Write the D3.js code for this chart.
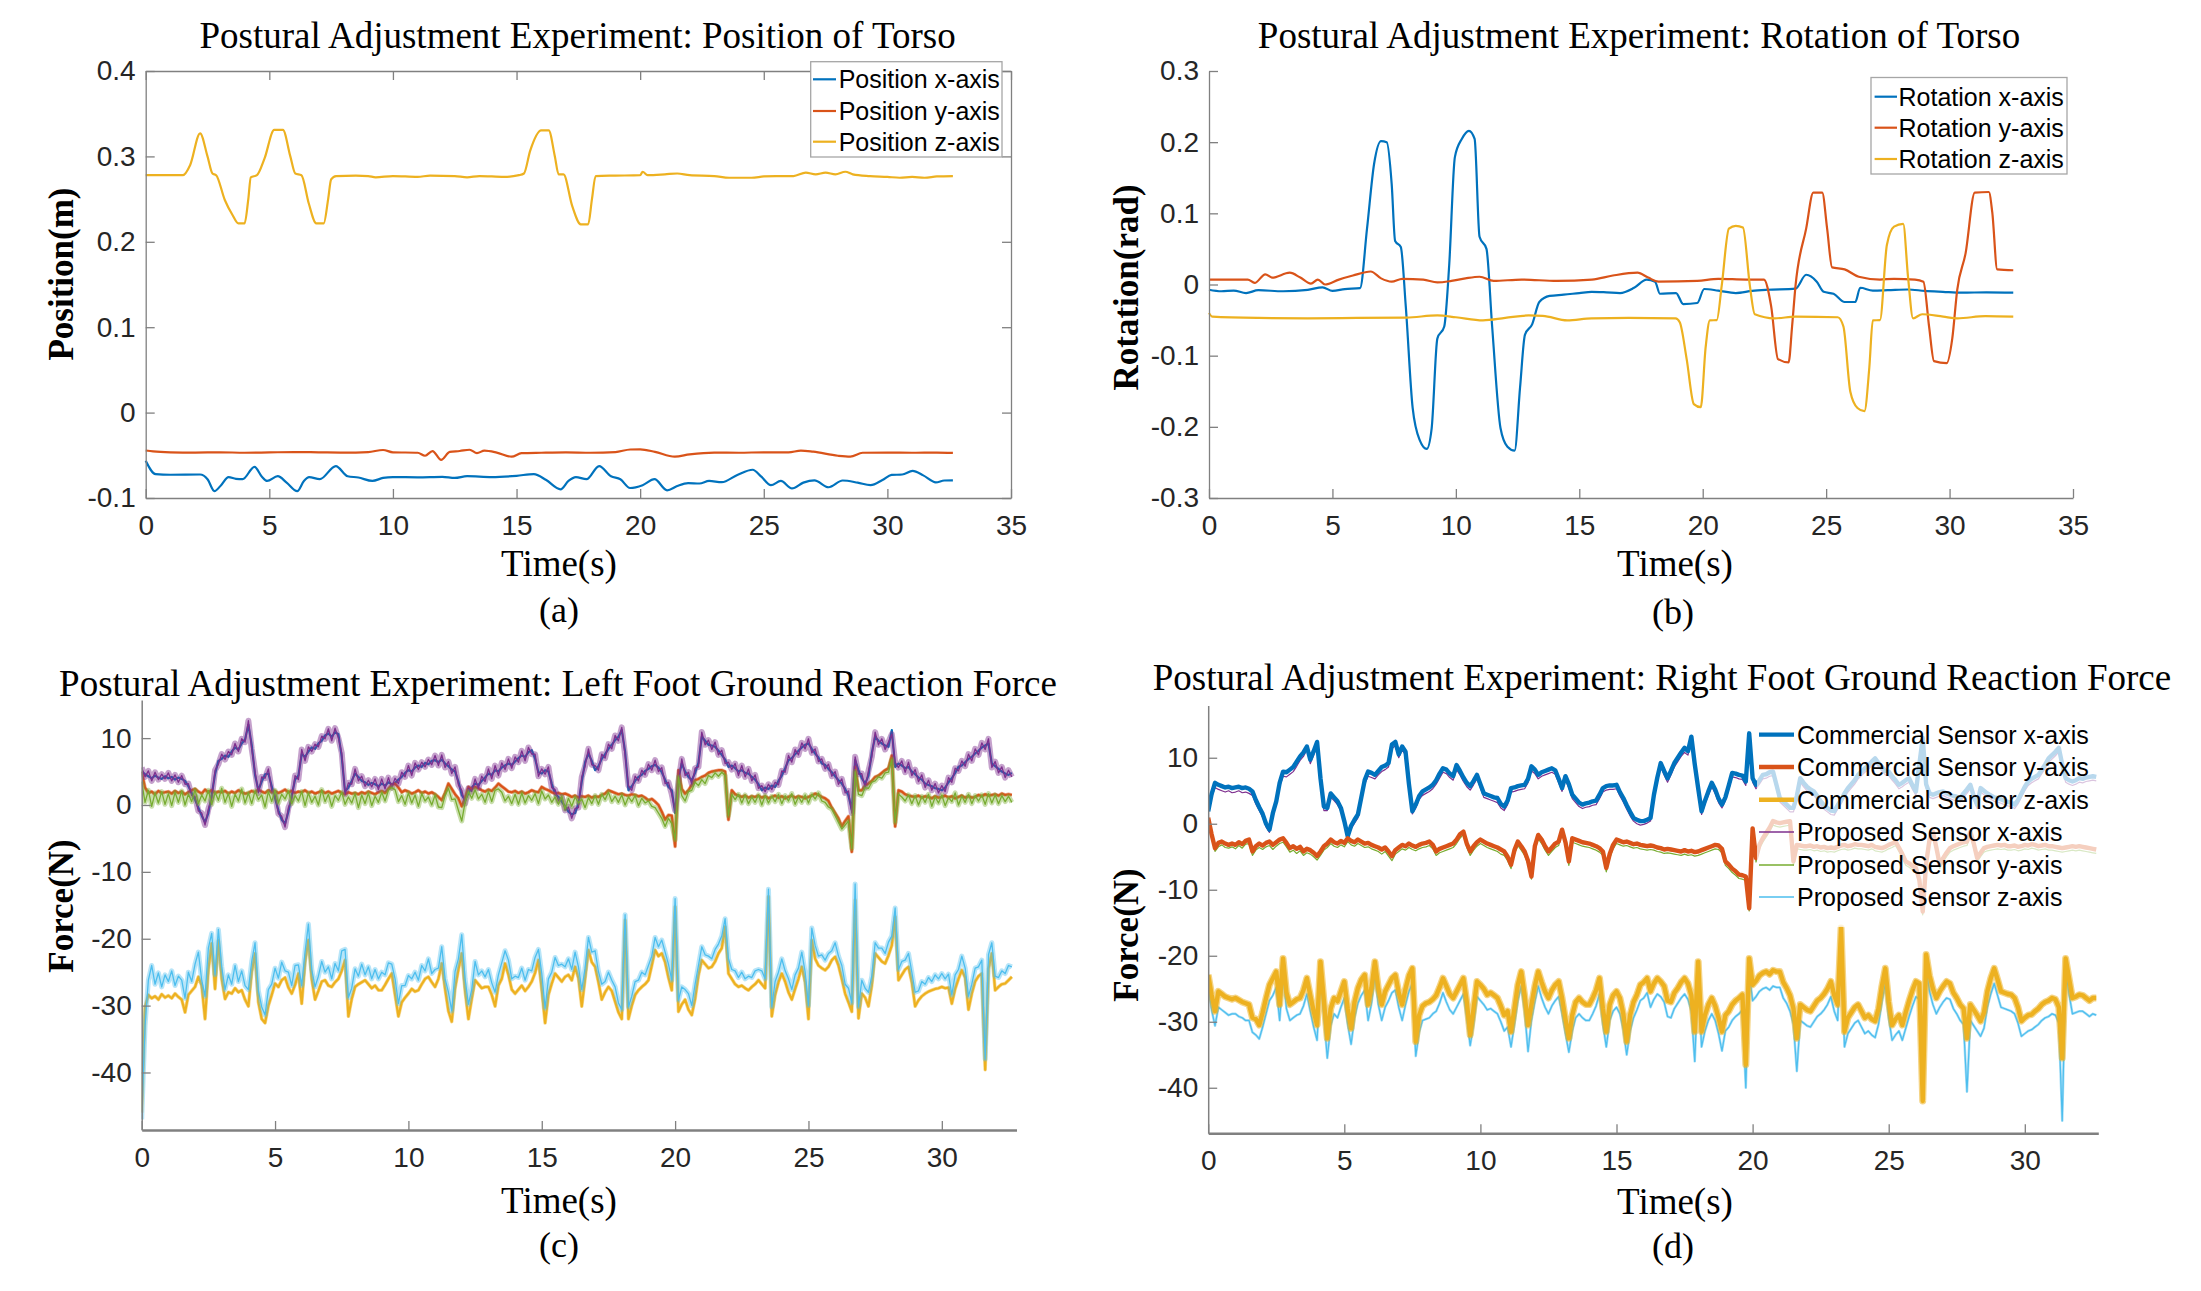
<!DOCTYPE html>
<html><head><meta charset="utf-8">
<script src="https://cdn.jsdelivr.net/npm/d3@7"></script>
<style>body{margin:0;background:#fff}</style>
</head><body>
<svg id="chart" width="2201" height="1291" xmlns="http://www.w3.org/2000/svg"></svg>
<script>
// ---------------- DATA ----------------
// Panel (a): torso position [time(s), value(m)]
const posX = [[0,-.0564],[0.4,-.0721],[1,-.0728],[2.2,-.0725],[2.5,-.078],[2.78,-.092],[3.05,-.085],[3.35,-.0755],[3.65,-.0775],[3.92,-.078],[4.4,-.0635],[4.7,-.075],[4.91,-.080],[5.34,-.0745],[5.7,-.082],[6.13,-.092],[6.4,-.080],[6.61,-.0755],[7.04,-.078],[7.69,-.0626],[8.17,-.0745],[8.6,-.076],[9.17,-.08],[9.6,-.0765],[10,-.0755],[11,-.0758],[12,-.0752],[12.5,-.0765],[13,-.0745],[14,-.0755],[15,-.074],[15.7,-.072],[16.2,-.079],[16.78,-.0898],[17.1,-.080],[17.4,-.0755],[17.83,-.078],[18.34,-.0626],[18.82,-.0745],[19.2,-.078],[19.59,-.0883],[20.1,-.085],[20.58,-.078],[21.09,-.091],[21.5,-.086],[21.94,-.0826],[22.4,-.083],[22.79,-.080],[23.3,-.0815],[23.93,-.073],[24.55,-.0669],[24.9,-.075],[25.29,-.085],[25.69,-.080],[26.14,-.0888],[26.6,-.082],[27.05,-.0793],[27.62,-.0874],[28.19,-.0795],[28.8,-.082],[29.32,-.085],[29.8,-.079],[30.17,-.073],[30.6,-.0725],[31.02,-.0683],[31.45,-.0735],[31.96,-.0817],[32.3,-.0795],[32.65,-.0793]];
const posY = [[0,-.0444],[0.3,-.0455],[1,-.0465],[2,-.0468],[3,-.0465],[4,-.047],[5,-.0466],[6,-.0462],[7,-.0465],[8,-.0468],[9,-.0462],[9.6,-.0438],[10,-.0465],[11,-.047],[11.3,-.0505],[11.6,-.045],[11.95,-.0554],[12.3,-.046],[12.7,-.045],[13.1,-.0435],[13.4,-.0475],[13.7,-.0445],[14.2,-.0468],[14.8,-.0516],[15.2,-.0475],[16,-.047],[17,-.0466],[18,-.047],[19,-.0462],[19.6,-.0432],[20,-.043],[20.6,-.046],[21.4,-.0516],[22,-.049],[23,-.0468],[24,-.047],[25,-.0465],[26,-.0465],[26.5,-.0445],[27,-.0458],[28,-.0505],[28.5,-.0515],[29,-.047],[30,-.0468],[31,-.047],[32,-.0468],[32.65,-.0472]];
const posZ = [[0,.278],[1.5,.278],[1.8,.29],[2.2,.327],[2.5,.30],[2.7,.28],[2.85,.278],[3.2,.249],[3.5,.232],[3.75,.2215],[4.0,.2215],[4.15,.25],[4.25,.2755],[4.5,.278],[4.8,.297],[5.2,.331],[5.55,.331],[5.85,.30],[6.05,.280],[6.3,.278],[6.6,.2445],[6.9,.2215],[7.2,.2215],[7.38,.25],[7.5,.273],[7.7,.277],[8.5,.2775],[9.0,.277],[9.3,.2755],[10,.277],[11,.276],[11.5,.2775],[12.5,.277],[13,.2755],[13.5,.277],[14.5,.276],[15.1,.278],[15.3,.28],[15.55,.3065],[16.0,.3305],[16.3,.3305],[16.55,.30],[16.7,.279],[16.9,.279],[17.25,.242],[17.6,.2205],[17.9,.2205],[18.05,.25],[18.2,.277],[19,.2775],[20,.278],[20.1,.282],[20.3,.278],[21,.279],[21.5,.28],[22,.278],[23,.277],[23.6,.275],[24.5,.275],[25,.2765],[25.5,.277],[26.2,.277],[26.7,.281],[27.1,.279],[27.5,.281],[27.9,.279],[28.3,.282],[28.6,.279],[29.3,.277],[30,.276],[30.5,.275],[31,.276],[31.5,.275],[32,.2765],[32.65,.277]];

// Panel (b): torso rotation [time(s), value(rad)]
const rotX = [[0,-.0074],[0.5,-.0095],[1,-.0085],[1.5,-.012],[2,-.008],[3,-.0095],[4,-.0075],[4.6,-.004],[5,-.009],[5.5,-.0065],[6.12,-.005],[6.4,.078],[6.69,.17],[6.97,.2015],[7.2,.20],[7.4,.1415],[7.54,.061],[7.77,.0527],[7.97,-.03],[8.25,-.1735],[8.54,-.219],[8.82,-.231],[9.02,-.202],[9.25,-.076],[9.53,-.059],[9.73,.027],[9.96,.179],[10.24,.2045],[10.53,.216],[10.76,.2045],[10.96,.067],[11.24,.05],[11.47,-.059],[11.81,-.202],[12.09,-.228],[12.38,-.2335],[12.6,-.145],[12.8,-.0705],[13.09,-.056],[13.38,-.0246],[13.8,-.016],[14.37,-.0143],[15,-.012],[15.5,-.0103],[16.1,-.011],[16.65,-.012],[17.22,-.0046],[17.73,.0069],[18.07,.004],[18.27,-.013],[18.92,-.012],[19.21,-.0275],[19.78,-.026],[20.06,-.0063],[20.63,-.0086],[21.34,-.012],[22,-.009],[22.62,-.0074],[23.76,-.0057],[24.19,.0137],[24.62,.004],[24.9,-.0103],[25.3,-.013],[25.75,-.0246],[26.18,-.0246],[26.38,-.0046],[26.89,-.0086],[27.5,-.008],[28.3,-.007],[29,-.009],[29.73,-.0103],[30.5,-.0115],[31.5,-.011],[32.58,-.0115]];
const rotY = [[0,.0069],[1.57,.0069],[1.85,.0023],[2.28,.0143],[2.56,.0097],[3.27,.0166],[3.7,.0097],[4.13,.0011],[4.41,.0069],[4.7,0],[5.26,.0069],[5.83,.0126],[6.55,.0183],[6.97,.0086],[7.4,.004],[7.83,.008],[8.68,.0069],[9.25,.0029],[9.82,.005],[10.39,.0086],[10.96,.0109],[11.53,.005],[12.66,.0069],[14.09,.005],[15.51,.0069],[16.36,.0126],[17.36,.0166],[17.79,.0097],[18.21,.004],[19.78,.005],[20.63,.008],[21.77,.0069],[22.48,.0069],[22.77,-.03],[23.05,-.1048],[23.48,-.1094],[23.62,-.059],[23.76,-.0017],[24.19,.0785],[24.48,.129],[24.84,.129],[25.04,.0785],[25.24,.024],[25.75,.0212],[26.32,.0109],[27.18,.0069],[27.75,.008],[28.6,.0069],[28.94,.004],[29.17,-.059],[29.37,-.1077],[29.88,-.1105],[30.11,-.0756],[30.31,-.0074],[30.65,.0441],[31.02,.129],[31.59,.13],[31.73,.1014],[31.93,.0212],[32.58,.02]];
const rotZ = [[0,-.040],[0.14,-.0452],[2,-.047],[4,-.0475],[6,-.047],[8,-.0465],[9.25,-.0435],[10,-.046],[11.1,-.0504],[12,-.047],[12.95,-.0435],[13.52,-.044],[14.51,-.0504],[15.5,-.0475],[17,-.047],[18.9,-.0475],[19.07,-.053],[19.35,-.1048],[19.64,-.168],[19.92,-.1724],[20.12,-.0876],[20.29,-.0504],[20.57,-.05],[20.77,-.0017],[21.06,.0785],[21.34,.0825],[21.63,.08],[21.91,-.0017],[22.11,-.0418],[22.91,-.0475],[23.76,-.0452],[25.47,-.046],[25.7,-.059],[25.98,-.1506],[26.27,-.1735],[26.55,-.178],[26.75,-.1163],[26.89,-.0504],[27.18,-.05],[27.46,.0556],[27.75,.0813],[28.12,.0853],[28.32,.0097],[28.52,-.0475],[28.89,-.0418],[29.74,-.0452],[30.31,-.0475],[31.45,-.0445],[32.58,-.0452]];

// Panels (c),(d): ground reaction forces sampled every forceDt seconds (N)
const forceDt = 0.125;
const leftComX = [
5.0,4.6,4.3,4.0,4.4,4.1,3.9,4.3, 4.0,4.2,3.8,4.1,3.9,3.6,2.8,1.8, 0.8,-0.4,-1.6,-2.6,-1.2,1.5,4.6,6.6, 6.9,7.4,7.2,8.0,8.6,8.3,9.2,9.8,
12.0,9.0,4.5,2.2,3.5,4.6,4.7,2.8, 1.0,-0.8,-2.2,-2.8,-1.0,1.4,3.8,4.4, 7.6,7.2,8.0,8.6,8.4,9.2,9.6,10.4, 10.7,10.2,10.9,10.6,7.2,2.0,2.6,3.6,
4.7,4.2,3.6,3.4,3.0,3.3,3.1,2.8, 3.2,2.9,3.4,3.1,3.3,3.8,4.2,4.8, 5.2,5.0,5.6,5.9,5.7,6.3,6.1,6.6, 6.7,6.4,6.8,6.2,5.8,5.3,5.0,3.5,
1.5,0.7,1.8,2.6,3.2,3.0,3.6,4.1, 4.7,4.5,5.2,5.0,5.6,5.9,6.2,6.0, 6.5,7.0,7.4,7.2,7.9,8.2,6.9,4.9, 4.7,5.2,5.0,3.2,1.6,1.2,0.5,-0.2,
-1.0,-1.4,-1.2,0.2,3.5,6.4,7.7,6.6, 5.2,5.8,6.9,7.6,8.4,9.0,9.7,10.2, 11.2,8.0,2.2,2.8,3.6,4.2,4.5,5.1, 5.4,5.8,6.0,5.6,4.9,3.8,2.7,2.2,
-1.2,4.0,6.2,5.0,4.2,3.7,4.8,6.3, 10.2,9.6,9.0,8.9,8.7,8.1,7.5,6.8, 5.7,5.9,5.5,5.0,5.2,4.8,4.7,4.2, 3.8,3.1,2.2,2.6,2.4,2.9,2.7,3.6,
4.4,5.5,6.7,7.0,7.6,8.1,8.6,9.0, 9.2,8.4,7.7,7.1,6.2,6.0,5.4,4.9, 4.3,3.7,3.2,2.4,1.4,-0.7,6.7,5.2, 4.0,3.2,4.4,7.8,10.2,9.6,9.2,8.9,
8.7,11.2,5.7,6.2,5.9,5.5,5.7,5.0, 4.6,4.1,3.8,3.2,3.0,2.8,2.5,2.4, 2.2,2.6,3.4,4.0,4.8,5.7,5.9,6.4, 6.9,7.2,7.7,8.1,8.6,8.9,9.2,6.2,
5.8,5.4,5.0,4.7,4.5,4.8];
const leftComY = [
5.0,2.6,1.8,2.0,1.6,2.1,1.8,1.9, 2.0,1.7,2.1,1.8,2.0,1.6,1.9,2.2, 2.4,2.0,1.7,2.3,1.9,2.2,1.8,2.0, 1.9,2.1,1.7,2.0,1.8,2.2,1.9,1.7,
1.8,2.1,1.9,2.3,2.0,1.8,2.2,1.9, 2.1,1.8,2.0,2.3,1.9,2.1,1.8,2.0, 1.9,2.2,1.8,2.0,1.7,1.9,2.1,1.8, 2.0,1.7,1.9,2.1,1.8,1.6,1.9,1.7,
1.8,1.6,1.9,1.7,2.0,1.8,1.6,1.9, 2.1,1.8,2.4,3.0,3.2,2.6,1.9,2.2, 2.0,1.7,1.9,2.2,1.8,2.0,1.7,1.9, 1.6,1.2,0.7,1.8,3.2,2.4,1.6,1.0,
-0.2,1.0,2.7,2.4,2.7,2.5,2.2,2.0, 2.3,2.1,2.6,3.2,2.8,2.4,2.0,1.9, 2.1,1.8,2.0,1.7,1.9,2.2,2.0,1.9, 2.7,2.4,2.2,1.9,1.7,1.8,1.6,1.7,
1.5,1.2,1.4,1.1,1.3,1.2,1.4,1.1, 1.3,1.2,1.5,1.7,2.2,2.0,1.8,1.6, 1.7,1.5,1.4,1.6,1.5,1.3,1.4,1.1, 0.7,0.9,0.5,0.0,-1.0,-2.2,-1.5,-1.6,
-6.2,5.2,2.4,1.7,2.2,3.0,3.7,3.9, 4.2,4.4,4.8,5.0,5.1,5.2,5.2,5.0, -2.2,2.2,1.6,1.4,1.2,1.4,1.1,1.3, 1.2,1.4,1.1,1.3,1.0,1.2,1.4,1.1,
1.3,1.0,1.2,1.4,1.1,1.3,1.2,1.0, 1.2,1.4,1.7,1.5,1.2,1.0,0.6,-0.4, -1.2,-2.0,-3.2,-2.4,-1.7,-7.0,5.7,2.2, 2.2,2.9,3.2,3.6,4.2,4.4,4.8,5.2,
5.5,7.4,-3.2,2.2,2.0,1.6,1.4,1.3, 1.2,1.4,1.1,1.3,1.2,1.0,1.3,1.1, 1.2,1.4,1.1,1.3,1.0,1.2,1.4,1.1, 1.3,1.1,1.2,1.5,1.3,1.6,1.4,1.5,
1.6,1.4,1.7,1.5,1.6,1.5];
const leftComZ = [
-46.0,-30.2,-28.4,-28.9,-28.6,-29.1,-28.3,-28.8, -28.5,-28.9,-28.2,-28.7,-29.1,-31.0,-28.4,-27.8, -27.2,-25.7,-27.0,-32.0,-24.6,-20.7,-27.5,-20.2, -26.0,-29.0,-28.0,-28.2,-27.4,-28.0,-27.7,-29.1,
-30.1,-25.0,-22.2,-29.5,-32.0,-32.6,-30.0,-28.4, -26.7,-27.2,-26.2,-25.8,-27.3,-28.2,-26.9,-25.2, -29.7,-23.5,-20.2,-26.0,-29.1,-27.8,-26.4,-26.2, -27.0,-27.2,-26.5,-26.0,-24.8,-23.2,-31.6,-29.0,
-27.2,-26.8,-26.5,-26.2,-26.8,-27.4,-27.0,-27.7, -27.7,-26.9,-26.0,-25.2,-28.4,-31.6,-29.5,-28.8, -28.2,-27.5,-27.9,-27.7,-26.8,-26.0,-25.7,-26.5, -27.2,-26.0,-23.7,-27.5,-30.8,-32.4,-27.4,-24.6,
-22.2,-27.8,-32.0,-29.0,-26.2,-26.8,-27.4,-27.2, -27.2,-28.4,-30.1,-27.0,-26.0,-23.7,-25.4,-27.6, -28.2,-27.6,-27.0,-27.8,-27.2,-26.4,-25.1,-23.2, -27.6,-32.6,-28.4,-26.7,-25.2,-25.8,-26.4,-25.7,
-25.4,-26.2,-24.2,-25.9,-30.1,-26.0,-21.7,-23.5, -24.2,-26.5,-29.1,-28.0,-27.2,-27.8,-29.4,-31.0, -32.0,-17.2,-32.0,-30.0,-28.4,-27.7,-27.2,-26.8, -26.2,-24.0,-21.7,-22.6,-22.2,-23.5,-25.8,-27.7,
-15.2,-30.9,-29.8,-29.1,-30.6,-31.4,-29.0,-25.5, -23.2,-23.8,-24.4,-24.2,-23.4,-22.2,-21.4,-18.2, -25.2,-26.0,-26.8,-27.2,-27.0,-27.4,-27.7,-27.2, -26.8,-26.2,-26.8,-27.4,-13.7,-31.6,-28.4,-26.5,
-25.2,-26.4,-28.0,-29.1,-27.5,-26.0,-24.2,-26.5, -32.0,-20.2,-23.0,-24.0,-24.4,-24.7,-24.2,-23.2, -22.7,-24.0,-26.0,-28.2,-29.5,-30.9,-14.2,-31.9, -28.2,-28.8,-30.1,-27.0,-22.2,-22.8,-23.4,-23.7,
-22.5,-21.0,-16.7,-26.2,-25.4,-24.6,-24.2,-26.5, -30.1,-29.2,-28.6,-28.2,-27.9,-27.7,-27.5,-27.4, -27.2,-27.4,-27.3,-29.7,-27.5,-26.0,-24.7,-25.8, -30.6,-28.2,-26.4,-25.6,-25.2,-39.6,-24.5,-22.2,
-27.7,-27.2,-26.8,-26.7,-26.2,-25.7];
const leftPropX = [
5.6,4.2,5.1,3.6,4.9,3.8,4.6,3.9, 4.8,3.6,4.5,3.4,4.4,3.1,3.2,1.4, 1.3,-0.9,-1.2,-3.0,-0.6,1.0,5.2,6.1, 7.6,6.8,8.0,7.5,9.2,8.0,9.9,9.4,
12.6,8.4,5.0,1.8,4.2,4.0,5.4,2.2, 1.6,-1.3,-1.7,-3.3,-0.4,0.8,4.4,3.8, 8.3,6.6,8.7,8.0,9.1,8.7,10.3,9.9, 11.4,9.6,11.5,10.0,7.8,1.6,3.3,3.1,
5.4,3.6,4.3,2.8,3.7,2.7,3.9,2.3, 3.9,2.4,4.1,2.6,4.0,3.2,4.9,4.2, 5.9,4.4,6.3,5.3,6.4,5.7,6.8,6.0, 7.4,5.9,7.5,5.6,6.5,4.7,5.7,3.0,
2.2,0.2,2.5,2.0,3.9,2.5,4.3,3.5, 5.4,3.9,5.9,4.4,6.3,5.3,6.9,5.5, 7.2,6.4,8.1,6.6,8.6,7.6,7.6,4.3, 5.4,4.6,5.7,2.6,2.3,0.6,1.2,-0.8,
-0.3,-2.0,-0.5,-0.4,4.2,5.8,8.4,6.0, 5.9,5.2,7.6,7.0,9.1,8.4,10.4,9.6, 11.6,7.4,2.9,2.2,4.3,3.6,5.2,4.5, 6.1,5.2,6.7,5.0,5.6,3.2,3.4,1.6,
-0.8,3.4,6.9,4.4,4.9,3.1,5.5,5.7, 10.9,9.0,9.7,8.3,9.4,7.5,8.2,6.2, 6.4,5.3,6.2,4.4,5.9,4.2,5.4,3.6, 4.5,2.5,2.9,2.0,3.1,2.3,3.4,3.0,
5.1,4.9,7.4,6.4,8.3,7.5,9.3,8.4, 9.9,7.8,8.4,6.5,6.9,5.4,6.1,4.3, 5.0,3.1,3.9,1.8,2.1,-1.2,7.2,4.6, 4.7,2.6,5.1,7.2,10.9,9.0,9.9,8.3,
9.4,10.6,6.4,5.6,6.6,4.9,6.4,4.4, 5.3,3.5,4.5,2.6,3.7,2.2,3.2,1.8, 2.9,2.0,4.1,3.4,5.5,5.1,6.6,5.8, 7.6,6.6,8.4,7.5,9.3,8.3,9.9,5.6,
6.5,4.8,5.7,4.1,5.2,4.2];
const leftPropY = [
3.5,0.4,2.2,-0.2,1.8,0.3,2.0,0.1, 1.7,-0.1,1.9,0.4,2.1,0.0,1.6,0.5, 2.3,0.2,1.5,0.6,2.2,0.1,1.9,0.7, 2.5,0.4,1.7,-0.2,1.6,0.6,2.4,0.3,
1.8,0.2,2.1,0.8,1.5,-0.3,2.0,0.5, 2.2,0.3,1.6,0.9,2.1,0.2,1.4,0.6, 2.0,-0.1,1.8,0.4,1.3,0.0,2.3,0.5, 1.6,-0.2,1.4,0.7,1.9,0.1,1.2,0.3,
1.7,-0.4,1.5,0.2,1.8,-0.1,1.3,0.4, 1.9,0.6,2.2,2.6,2.3,0.5,1.4,0.1, 1.8,0.3,1.5,-0.2,1.7,0.6,1.2,0.0, 1.5,-0.3,-0.4,1.4,2.5,0.8,0.9,-0.8,
-2.4,0.4,2.0,1.0,2.3,0.9,1.6,0.4, 2.0,0.5,2.2,2.4,1.9,0.6,1.3,0.2, 1.6,0.1,1.8,0.3,1.4,0.7,1.7,0.2, 2.1,0.9,1.5,0.4,1.2,0.1,1.3,-0.6,
1.0,-0.2,1.2,0.3,0.9,-0.4,1.1,0.2, 1.4,0.1,1.6,0.8,1.9,0.5,1.3,0.4, 1.5,0.0,1.2,0.5,1.4,-0.1,1.0,0.3, 0.6,-0.2,-0.4,-1.2,-2.0,-3.2,-2.0,-2.8,
-5.2,4.2,1.4,0.6,2.0,2.2,3.4,2.9, 3.8,3.2,4.4,4.1,4.8,4.3,4.9,4.4, -1.6,1.6,0.8,1.6,0.3,1.5,0.2,1.2, 0.4,1.5,0.0,1.4,0.3,1.3,0.5,1.6,
0.2,1.4,0.6,1.7,0.1,1.2,0.4,1.5, 0.3,1.6,0.9,1.8,0.6,0.4,-0.3,-0.6, -1.6,-2.6,-3.6,-3.0,-2.4,-6.5,5.0,1.6, 1.4,2.6,2.5,3.4,3.6,4.2,4.0,4.8,
4.9,6.8,-2.6,1.6,1.2,0.6,1.5,0.2, 1.4,0.0,1.3,0.4,1.6,-0.2,1.2,0.3, 1.5,-0.1,1.1,0.5,1.8,0.0,1.3,0.4, 1.6,0.2,1.4,0.6,1.5,0.1,1.7,0.3,
1.5,0.2,1.4,0.5,1.3,0.4];
const leftPropZ = [
-47.0,-33.0,-26.2,-24.0,-26.8,-25.1,-27.2,-25.4, -26.4,-24.8,-27.0,-25.6,-26.2,-28.9,-25.0,-26.4, -23.8,-22.0,-26.2,-28.6,-21.4,-19.2,-25.4,-18.6, -24.2,-27.6,-25.4,-26.8,-24.0,-26.4,-24.8,-27.0,
-27.6,-23.4,-20.6,-27.8,-30.2,-31.4,-27.6,-26.8, -24.4,-25.9,-23.5,-24.8,-25.0,-27.0,-24.0,-23.9, -27.0,-22.0,-17.8,-24.6,-27.2,-25.6,-23.4,-25.0, -24.2,-26.0,-23.7,-24.8,-21.8,-21.6,-28.8,-27.4,
-24.5,-25.6,-23.8,-25.4,-24.2,-26.0,-24.6,-26.0, -25.0,-25.4,-23.6,-23.8,-26.0,-29.7,-27.0,-27.0, -25.5,-26.0,-25.0,-26.2,-24.0,-24.8,-23.0,-25.2, -24.6,-24.4,-21.2,-26.0,-28.0,-30.8,-24.9,-23.0,
-19.4,-26.0,-29.8,-27.6,-23.4,-25.4,-24.8,-25.7, -24.6,-26.6,-28.0,-25.4,-23.6,-21.8,-23.2,-26.0, -25.6,-25.8,-24.4,-26.2,-24.6,-24.8,-22.8,-21.6, -25.2,-30.4,-26.0,-25.0,-22.8,-24.0,-23.8,-24.2,
-23.0,-24.6,-22.0,-24.2,-27.6,-24.4,-19.8,-22.0, -21.8,-24.9,-26.8,-26.4,-25.0,-26.2,-27.2,-29.6, -30.6,-16.4,-30.2,-28.6,-26.4,-26.2,-25.0,-25.4, -24.0,-22.6,-19.8,-21.2,-20.2,-22.0,-23.8,-26.2,
-14.0,-29.2,-27.2,-27.6,-28.2,-30.0,-26.8,-24.0, -21.2,-22.4,-22.6,-23.0,-21.6,-20.8,-19.6,-17.0, -23.0,-24.6,-24.8,-25.8,-25.0,-26.0,-25.6,-25.8, -24.8,-24.6,-24.8,-26.0,-12.6,-30.2,-26.4,-25.0,
-23.0,-24.8,-26.0,-27.6,-25.4,-24.4,-22.0,-25.0, -30.0,-18.4,-21.0,-22.6,-22.4,-23.2,-22.2,-21.8, -20.6,-22.6,-24.0,-26.8,-27.4,-29.6,-11.8,-30.2, -26.2,-27.4,-28.0,-25.6,-20.6,-21.4,-21.4,-22.2,
-20.5,-19.6,-15.4,-24.6,-23.4,-23.2,-22.2,-25.0, -28.0,-27.8,-26.4,-26.8,-25.8,-26.4,-25.4,-26.0, -25.2,-26.0,-25.3,-28.4,-25.4,-24.6,-22.6,-24.4, -28.6,-26.8,-24.4,-24.2,-23.2,-38.0,-22.4,-20.6,
-25.6,-25.8,-24.8,-25.2,-24.0,-24.2];

const rightComX = [
1.9,4.5,6.2,5.9,5.7,5.5,5.6,5.4, 5.5,5.6,5.4,5.5,5.3,4.9,3.6,2.5, 1.5,0.0,-0.9,1.6,3.4,6.2,7.9,7.8, 8.2,8.6,9.4,10.2,10.8,11.7,9.7,11.0,
12.4,6.9,2.6,2.4,4.6,4.0,3.4,2.4, 0.4,-1.9,-0.3,0.6,1.4,4.0,6.6,7.9, 7.7,7.4,8.0,8.6,8.8,9.2,12.0,12.4, 10.5,11.7,10.9,6.0,1.9,2.9,4.2,4.9,
5.2,5.5,5.9,6.6,7.6,8.4,8.2,7.6, 7.2,8.9,8.0,7.0,6.2,5.7,6.5,7.4, 6.0,4.6,4.4,4.2,4.0,3.9,3.0,2.6, 3.5,5.4,5.5,5.7,5.8,5.9,6.8,8.7,
8.2,7.4,7.8,8.0,8.2,8.4,8.1,6.8, 5.4,7.2,6.0,4.4,3.8,3.2,2.9,3.1, 3.2,3.4,3.5,4.4,5.4,5.7,5.8,5.8, 5.9,4.8,3.9,2.8,1.8,0.9,0.6,0.4,
0.4,0.6,0.9,4.4,7.0,9.2,8.0,6.9, 8.0,9.2,10.0,10.8,11.5,11.0,13.2,9.0, 5.4,1.9,3.5,4.9,6.2,5.2,3.8,2.9, 4.0,5.8,7.7,7.6,7.4,7.3,6.4,13.7,
6.9,5.9,6.6,7.4,7.5,7.8,7.9,5.9, 3.9,3.4,2.9,2.4,2.4,4.2,6.9,6.2, 5.6,5.2,4.9,4.2,3.4,2.8,2.4,2.0, 1.9,2.8,3.6,4.6,5.4,6.0,6.6,7.4,
7.9,8.4,8.8,9.4,9.9,9.2,8.6,8.0, 7.9,7.2,6.6,5.9,6.2,6.6,6.9,5.8, 4.9,9.0,13.0,6.0,4.6,4.4,4.6,4.8, 4.9,4.6,4.4,4.2,4.1,3.9,4.6,5.2,
5.9,4.2,2.9,5.4,5.0,4.6,4.3,4.0, 3.9,3.7,3.5,3.3,3.2,2.9,3.6,4.6, 5.6,6.4,6.8,7.1,7.4,8.2,9.0,9.9, 10.4,10.9,11.5,9.0,6.9,6.6,6.4,6.6,
6.9,6.8,7.0,7.1,7.2,7.1];
const rightComY = [
0.9,-1.6,-3.7,-2.9,-2.7,-3.0,-3.2,-3.0, -3.2,-2.8,-3.1,-2.6,-2.4,-4.2,-3.4,-3.0, -3.3,-2.9,-2.7,-3.2,-2.8,-2.4,-2.2,-2.9, -3.7,-3.4,-3.8,-3.5,-4.2,-3.8,-4.0,-4.4,
-4.9,-4.2,-3.4,-3.0,-2.4,-2.8,-3.0,-2.6, -2.9,-2.2,-2.6,-2.8,-2.4,-2.7,-3.0,-2.9, -3.2,-3.4,-3.6,-3.9,-3.6,-4.2,-4.9,-4.0, -3.6,-3.2,-3.4,-3.0,-3.3,-3.5,-3.2,-3.0,
-2.9,-2.7,-3.2,-4.2,-3.8,-3.6,-3.4,-3.2, -3.0,-2.4,-1.6,-1.2,-3.0,-4.2,-3.4,-2.8, -2.4,-2.7,-3.0,-3.2,-3.4,-3.6,-3.9,-4.2, -5.0,-6.2,-4.0,-2.7,-3.4,-4.2,-5.6,-8.0,
-3.4,-1.7,-2.4,-3.4,-4.2,-3.6,-3.0,-2.7, -0.9,-2.8,-5.7,-2.2,-2.4,-2.6,-2.8,-2.9, -3.0,-3.2,-3.4,-3.7,-4.2,-6.7,-4.6,-3.2, -2.4,-2.6,-2.8,-2.7,-2.9,-3.1,-3.0,-3.2,
-3.3,-3.4,-3.3,-3.4,-3.6,-3.7,-3.9,-3.8, -3.9,-4.0,-4.1,-4.2,-4.0,-4.2,-4.1,-4.3, -4.2,-4.0,-3.8,-3.6,-3.4,-3.2,-3.3,-3.8, -5.7,-6.2,-6.8,-7.2,-7.7,-7.8,-8.0,-12.8,
-0.7,-5.2,-3.2,-2.2,-1.4,-0.6,0.4,0.2, 0.1,0.2,0.3,0.4,-5.7,-3.2,-3.3,-3.4, -3.4,-3.3,-3.5,-3.4,-3.6,-3.5,-3.7,-3.6, -3.7,-3.5,-3.3,-3.2,-3.4,-3.3,-3.1,-3.2,
-3.2,-3.3,-3.4,-3.2,-3.5,-3.6,-3.7,-3.5, -3.2,-3.0,-2.7,-3.6,-4.6,-5.7,-6.0,-6.4, -6.7,-8.5,-13.3,-6.0,-2.4,-1.2,-3.6,-6.2, -5.2,-4.4,-3.7,-3.4,-3.2,-3.0,-2.8,-2.7,
-1.2,-3.0,-5.2,-4.4,-3.7,-3.5,-3.4,-3.3, -3.2,-3.3,-3.2,-3.4,-3.4,-3.3,-3.5,-3.4, -3.2,-3.3,-3.1,-3.2,-3.4,-3.3,-3.2,-3.4, -3.4,-3.5,-3.6,-3.7,-3.6,-3.5,-3.4,-3.5,
-3.4,-3.5,-3.6,-3.7,-3.8,-3.9];
const rightComZ = [
-22.9,-25.9,-28.4,-25.4,-25.8,-26.2,-26.4,-26.6, -26.4,-26.7,-27.0,-27.2,-27.4,-29.4,-29.6,-30.5, -28.6,-26.4,-24.4,-23.4,-22.4,-27.4,-20.4,-25.6, -27.4,-27.0,-26.6,-26.4,-25.2,-23.4,-26.0,-28.4,
-30.5,-20.9,-26.8,-32.5,-28.0,-26.4,-26.9,-25.4, -23.9,-28.0,-31.0,-27.0,-24.9,-23.6,-22.9,-27.4, -24.8,-20.9,-25.0,-27.4,-25.4,-24.4,-23.4,-22.9, -25.6,-27.4,-25.0,-23.0,-21.9,-33.0,-29.0,-27.6,
-27.2,-27.0,-26.6,-26.0,-24.8,-23.4,-24.6,-25.8, -26.4,-25.4,-24.4,-23.4,-27.0,-32.0,-28.0,-23.9, -24.4,-25.0,-25.9,-25.6,-26.0,-26.4,-27.6,-29.0, -28.4,-31.5,-28.0,-24.4,-22.4,-26.0,-30.5,-27.4,
-24.6,-22.4,-24.0,-25.4,-26.4,-25.2,-24.4,-23.9, -26.4,-29.6,-32.5,-29.0,-27.0,-26.4,-27.0,-27.4, -27.4,-26.4,-25.2,-23.4,-28.0,-31.5,-27.4,-26.0, -25.4,-26.4,-28.8,-33.0,-29.0,-27.0,-25.9,-24.4,
-24.0,-23.4,-25.4,-24.2,-23.4,-23.9,-24.6,-26.8, -27.0,-25.6,-24.9,-24.0,-23.4,-24.2,-26.0,-31.5, -20.9,-31.5,-29.0,-27.4,-26.4,-27.6,-29.4,-31.5, -29.0,-28.4,-27.4,-26.8,-26.4,-25.9,-36.5,-20.4,
-24.4,-23.8,-23.0,-22.6,-22.4,-22.8,-22.2,-22.4, -22.4,-24.0,-24.9,-26.0,-28.0,-32.5,-27.4,-27.8, -28.2,-28.4,-27.6,-26.8,-26.4,-25.8,-25.0,-23.9, -26.0,-27.4,-15.8,-31.5,-29.4,-28.6,-27.8,-27.4,
-28.4,-29.4,-29.0,-29.6,-29.9,-28.0,-24.6,-21.9, -27.0,-30.5,-29.6,-29.0,-30.5,-28.6,-26.8,-25.2, -23.9,-24.2,-42.0,-19.8,-23.0,-25.0,-26.4,-25.4, -24.6,-23.9,-24.2,-25.6,-26.4,-27.4,-28.0,-32.5,
-27.4,-28.2,-29.0,-29.9,-28.6,-25.4,-23.4,-21.9, -23.6,-25.4,-25.6,-25.8,-25.9,-26.4,-27.8,-29.9, -29.4,-29.0,-28.9,-28.4,-28.0,-27.4,-27.0,-26.8, -26.4,-26.6,-27.8,-35.5,-20.4,-23.4,-26.4,-26.2,
-25.9,-26.0,-26.4,-26.8,-26.4,-26.4];
const rightPropX = [
1.6,4.0,5.5,5.2,5.0,4.8,5.0,4.7, 4.8,5.0,4.7,4.8,4.6,4.3,3.0,2.0, 1.0,-0.5,-1.3,1.1,2.9,5.6,7.2,7.1, 7.5,7.9,8.7,9.6,10.2,11.2,9.1,10.4,
11.9,6.4,2.0,2.0,4.0,3.5,2.9,1.9, 0.0,-2.3,-0.8,0.1,0.9,3.4,6.0,7.2, 7.0,6.8,7.4,7.9,8.2,8.6,11.4,11.8, 10.0,11.2,10.4,5.6,1.5,2.4,3.7,4.3,
4.6,4.9,5.3,6.0,6.9,7.8,7.6,7.0, 6.6,8.2,7.4,6.4,5.6,5.1,5.9,6.8, 5.4,4.0,3.8,3.6,3.4,3.2,2.4,2.0, 2.9,4.8,4.9,5.1,5.2,5.3,6.2,8.0,
7.6,6.8,7.2,7.4,7.6,7.8,7.5,6.2, 4.9,6.6,5.4,3.8,3.2,2.6,2.3,2.5, 2.6,2.8,2.9,3.8,4.8,5.1,5.2,5.2, 5.3,4.2,3.3,2.2,1.2,0.4,0.0,-0.2,
-0.1,0.1,0.4,3.8,6.4,8.6,7.4,6.3, 7.4,8.6,9.4,10.2,10.8,10.4,12.6,8.4, 4.8,1.4,3.0,4.3,5.6,4.6,3.2,2.4, 3.5,5.2,7.1,7.0,6.8,6.7,5.8,13.0,
6.3,5.3,6.0,6.8,6.9,7.2,7.3,5.3, 3.3,2.8,2.3,1.8,1.8,3.6,6.3,5.6, 5.0,4.6,4.3,3.6,2.8,2.2,1.8,1.4, 1.3,2.2,3.0,4.0,4.8,5.4,6.0,6.8,
7.3,7.8,8.2,8.8,9.3,8.6,8.0,7.4, 7.3,6.6,6.0,5.3,5.6,6.0,6.3,5.2, 4.3,8.4,12.4,5.4,4.0,3.8,4.0,4.2, 4.3,4.0,3.8,3.6,3.5,3.3,4.0,4.6,
5.3,3.6,2.3,4.8,4.4,4.0,3.7,3.4, 3.3,3.1,2.9,2.7,2.6,2.3,3.0,4.0, 5.0,5.8,6.2,6.5,6.8,7.6,8.4,9.3, 9.8,10.3,10.9,8.4,6.3,6.0,5.8,6.0,
6.3,6.2,6.4,6.5,6.6,6.5];
const rightPropY = [
0.6,-2.0,-4.2,-3.5,-3.2,-3.6,-3.7,-3.5, -3.8,-3.3,-3.7,-3.1,-3.0,-4.8,-4.0,-3.6, -3.9,-3.5,-3.3,-3.9,-3.4,-3.0,-2.8,-3.5, -4.3,-4.0,-4.5,-4.1,-4.8,-4.4,-4.6,-5.0,
-5.5,-4.8,-4.0,-3.6,-3.0,-3.4,-3.6,-3.2, -3.5,-2.7,-3.2,-3.4,-3.0,-3.3,-3.6,-3.5, -3.8,-4.0,-4.2,-4.6,-4.2,-4.9,-5.6,-4.6, -4.2,-3.8,-4.0,-3.6,-3.9,-4.1,-3.8,-3.6,
-3.5,-3.3,-3.8,-4.8,-4.4,-4.2,-4.0,-3.8, -3.6,-3.0,-2.2,-1.6,-3.6,-4.8,-4.0,-3.4, -3.0,-3.3,-3.6,-3.8,-4.0,-4.2,-4.6,-4.8, -5.6,-6.8,-4.6,-3.3,-4.0,-4.8,-6.2,-8.4,
-4.0,-2.3,-3.0,-4.0,-4.8,-4.2,-3.6,-3.3, -1.4,-3.4,-6.3,-2.8,-3.0,-3.2,-3.4,-3.5, -3.6,-3.8,-4.0,-4.3,-4.8,-7.3,-5.2,-3.8, -3.0,-3.2,-3.4,-3.3,-3.5,-3.7,-3.6,-3.8,
-3.9,-4.0,-3.9,-4.0,-4.2,-4.3,-4.5,-4.4, -4.5,-4.6,-4.7,-4.8,-4.6,-4.8,-4.7,-4.9, -4.8,-4.6,-4.4,-4.2,-4.0,-3.8,-3.9,-4.4, -6.3,-6.8,-7.4,-7.8,-8.3,-8.4,-8.6,-13.2,
-1.2,-5.8,-3.8,-2.8,-2.0,-1.2,-0.2,-0.4, -0.5,-0.4,-0.3,-0.2,-6.3,-3.8,-3.9,-4.0, -4.0,-3.9,-4.1,-4.0,-4.2,-4.1,-4.3,-4.2, -4.3,-4.1,-3.9,-3.8,-4.0,-3.9,-3.7,-3.8,
-3.8,-3.9,-4.0,-3.8,-4.1,-4.2,-4.3,-4.1, -3.8,-3.6,-3.3,-4.2,-5.2,-6.3,-6.6,-7.0, -7.3,-9.1,-13.8,-6.6,-3.0,-1.8,-4.2,-6.8, -5.8,-5.0,-4.3,-4.0,-3.8,-3.6,-3.4,-3.3,
-1.8,-3.6,-5.8,-5.0,-4.3,-4.1,-4.0,-3.9, -3.8,-3.9,-3.8,-4.0,-4.0,-3.9,-4.1,-4.0, -3.8,-3.9,-3.7,-3.8,-4.0,-3.9,-3.8,-4.0, -4.0,-4.1,-4.2,-4.3,-4.2,-4.1,-4.0,-4.1,
-4.0,-4.1,-4.2,-4.3,-4.4,-4.5];
const rightPropZ = [
-24.6,-28.2,-30.6,-27.8,-28.2,-28.6,-29.0,-28.8, -28.8,-29.2,-29.4,-29.8,-29.8,-31.6,-32.0,-32.6, -30.8,-28.8,-26.8,-26.0,-24.8,-29.8,-22.8,-28.0, -29.8,-29.4,-29.0,-28.8,-27.6,-25.8,-28.4,-30.8,
-32.8,-22.8,-29.2,-35.5,-30.6,-28.8,-29.4,-27.8, -26.4,-30.4,-33.4,-29.4,-27.2,-26.0,-25.2,-29.8, -27.2,-23.0,-27.4,-29.8,-27.8,-26.8,-25.6,-25.2, -27.8,-29.8,-27.4,-25.4,-24.2,-35.2,-31.6,-29.8,
-29.6,-29.4,-28.8,-28.4,-27.2,-25.6,-27.0,-28.2, -28.8,-27.8,-26.8,-25.8,-29.4,-33.6,-30.4,-26.2, -26.8,-27.4,-28.2,-28.0,-28.4,-28.8,-30.0,-31.4, -30.8,-33.8,-30.4,-26.8,-24.6,-28.4,-34.5,-29.8,
-27.0,-24.6,-26.4,-27.8,-28.8,-27.6,-26.8,-26.2, -28.8,-31.8,-34.6,-31.4,-29.4,-28.8,-29.4,-29.8, -29.8,-28.8,-27.6,-25.8,-30.4,-33.8,-29.8,-28.4, -27.8,-28.8,-31.2,-35.0,-31.4,-29.4,-28.2,-26.8,
-26.4,-25.6,-27.8,-26.6,-25.8,-26.2,-27.0,-29.2, -29.4,-28.0,-27.2,-26.4,-25.8,-26.6,-28.4,-36.0, -22.8,-33.8,-31.4,-29.8,-28.8,-29.8,-31.8,-34.4, -31.4,-30.8,-29.8,-29.2,-28.8,-28.2,-40.0,-22.4,
-26.8,-26.2,-25.4,-25.0,-24.8,-25.2,-24.6,-24.8, -24.8,-26.4,-27.2,-28.4,-30.4,-37.5,-29.8,-30.2, -30.6,-30.8,-30.0,-29.2,-28.8,-28.2,-27.4,-26.2, -28.4,-29.8,-16.6,-33.8,-31.8,-31.0,-30.2,-29.8,
-30.8,-31.8,-31.4,-32.0,-32.4,-30.4,-27.0,-24.2, -29.4,-32.8,-32.0,-31.4,-32.8,-31.0,-29.2,-27.6, -26.2,-26.6,-40.6,-22.0,-25.4,-27.4,-28.8,-27.8, -27.0,-26.4,-26.6,-28.0,-28.8,-29.8,-30.4,-40.6,
-29.8,-30.6,-31.4,-32.2,-31.0,-27.8,-25.8,-24.2, -26.0,-27.8,-28.0,-28.2,-28.4,-28.8,-30.2,-32.2, -31.8,-31.4,-31.2,-30.8,-30.4,-29.8,-29.4,-29.2, -28.8,-29.0,-30.2,-45.0,-22.4,-25.8,-28.8,-28.6,
-28.4,-28.4,-28.8,-29.2,-28.8,-29.0];

// Ticks, labels and texts
const torsoTicksX = [0,5,10,15,20,25,30,35];
const forceTicksX = [0,5,10,15,20,25,30];
const posTicksY = [-0.1,0,0.1,0.2,0.3,0.4];
const posTickLabels = ['-0.1','0','0.1','0.2','0.3','0.4'];
const rotTicksY = [-0.3,-0.2,-0.1,0,0.1,0.2,0.3];
const rotTickLabels = ['-0.3','-0.2','-0.1','0','0.1','0.2','0.3'];
const forceTicksY = [-40,-30,-20,-10,0,10];
const forceTickLabels = ['-40','-30','-20','-10','0','10'];
const titles = ['Postural Adjustment Experiment: Position of Torso','Postural Adjustment Experiment: Rotation of Torso','Postural Adjustment Experiment: Left Foot Ground Reaction Force','Postural Adjustment Experiment: Right Foot Ground Reaction Force'];
const posLegend = ['Position x-axis','Position y-axis','Position z-axis'];
const rotLegend = ['Rotation x-axis','Rotation y-axis','Rotation z-axis'];
const forceLegend = ['Commercial Sensor x-axis','Commercial Sensor y-axis','Commercial Sensor z-axis','Proposed Sensor x-axis','Proposed Sensor y-axis','Proposed Sensor z-axis'];
const colors = ['#0072BD','#D95319','#EDB120','#7E2F8E','#77AC30','#4DBEEE'];

// ---------------- DRAWING ----------------
const SANS = "'Liberation Sans', Arial, Helvetica, sans-serif";
const SERIF = "'Liberation Serif', 'Times New Roman', Times, serif";
const AX = '#808080';
const svg = d3.select('#chart');
svg.append('rect').attr('width',2201).attr('height',1291).attr('fill','#fff');

function styleAxis(a, domainW){
  a.attr('font-family', SANS).attr('font-size', 28);
  a.select('.domain').attr('stroke', AX).attr('stroke-width', domainW);
  a.selectAll('.tick line').attr('stroke', AX).attr('stroke-width', 1.3);
  a.selectAll('.tick text').attr('fill', '#262626');
}
function text(x, y, s, size, opts={}){
  const t = svg.append('text').attr('x', x).attr('y', y).text(s)
    .attr('font-family', opts.family || SERIF).attr('font-size', size)
    .attr('text-anchor', opts.anchor || 'middle').attr('fill', opts.fill || '#000');
  if (opts.bold) t.attr('font-weight', 'bold');
  if (opts.rotate) t.attr('transform', `rotate(-90 ${x} ${y})`);
  return t;
}
let clipId = 0;
function makeClip(x0, y0, w, h){
  const id = 'clip' + (clipId++);
  svg.append('clipPath').attr('id', id).append('rect').attr('x', x0).attr('y', y0 - 30).attr('width', w).attr('height', h + 60);
  return 'url(#' + id + ')';
}

// ---------- Panel (a) ----------
(function(){
  const x = d3.scaleLinear().domain([0,35]).range([145.7,1011]);
  const y = d3.scaleLinear().domain([-0.1,0.4]).range([498,71]);
  const g = svg.append('g');
  const line = d3.line().x(d=>x(d[0])).y(d=>y(d[1])).curve(d3.curveMonotoneX);
  [posX,posY,posZ].forEach((s,i)=>{
    g.append('path').datum(s).attr('d', line).attr('fill','none').attr('stroke', colors[i]).attr('stroke-width', 2.2).attr('stroke-linejoin','round');
  });
  const ab = svg.append('g').attr('transform','translate(0,498)').call(d3.axisBottom(x).tickValues(torsoTicksX).tickFormat(d3.format('d')).tickSize(-9).tickSizeOuter(0).tickPadding(17));
  styleAxis(ab, 1.3);
  const al = svg.append('g').attr('transform','translate(145.7,0)').call(d3.axisLeft(y).tickValues(posTicksY).tickFormat((d,i)=>posTickLabels[i]).tickSize(-9).tickSizeOuter(0).tickPadding(10));
  styleAxis(al, 1.3);
  const at = svg.append('g').attr('transform','translate(0,71)').call(d3.axisTop(x).tickValues(torsoTicksX).tickFormat('').tickSize(-9).tickSizeOuter(0));
  styleAxis(at, 1.3);
  const ar = svg.append('g').attr('transform','translate(1011,0)').call(d3.axisRight(y).tickValues(posTicksY).tickFormat('').tickSize(-9).tickSizeOuter(0));
  styleAxis(ar, 1.3);
  svg.append('rect').attr('x',810.7).attr('y',61.7).attr('width',191.3).attr('height',95.3).attr('fill','#fff').attr('stroke','#a6a6a6').attr('stroke-width',1.3);
  const rows = [79.3,111,141.7];
  posLegend.forEach((s,i)=>{
    svg.append('line').attr('x1',813).attr('x2',836).attr('y1',rows[i]).attr('y2',rows[i]).attr('stroke',colors[i]).attr('stroke-width',2.2);
    text(838.7, rows[i]+9, s, 25, {family:SANS, anchor:'start'});
  });
  text(577.6, 48, titles[0], 37);
  text(559, 576, 'Time(s)', 37);
  text(73, 274, 'Position(m)', 35, {bold:true, rotate:true});
  text(559, 622, '(a)', 36);
})();

// ---------- Panel (b) ----------
(function(){
  const x = d3.scaleLinear().domain([0,35]).range([1209,2073]);
  const y = d3.scaleLinear().domain([-0.3,0.3]).range([498,71]);
  const g = svg.append('g');
  const line = d3.line().x(d=>x(d[0])).y(d=>y(d[1])).curve(d3.curveMonotoneX);
  [rotX,rotY,rotZ].forEach((s,i)=>{
    g.append('path').datum(s).attr('d', line).attr('fill','none').attr('stroke', colors[i]).attr('stroke-width', 2.2).attr('stroke-linejoin','round');
  });
  const ab = svg.append('g').attr('transform','translate(0,498)').call(d3.axisBottom(x).tickValues(torsoTicksX).tickFormat(d3.format('d')).tickSize(-9).tickSizeOuter(0).tickPadding(17));
  styleAxis(ab, 1.3);
  const al = svg.append('g').attr('transform','translate(1209,0)').call(d3.axisLeft(y).tickValues(rotTicksY).tickFormat((d,i)=>rotTickLabels[i]).tickSize(-9).tickSizeOuter(0).tickPadding(10));
  styleAxis(al, 1.3);
  svg.append('rect').attr('x',1871).attr('y',77.5).attr('width',196).attr('height',96.5).attr('fill','#fff').attr('stroke','#a6a6a6').attr('stroke-width',1.3);
  const rows = [96.7,127.7,159];
  rotLegend.forEach((s,i)=>{
    svg.append('line').attr('x1',1874.6).attr('x2',1897).attr('y1',rows[i]).attr('y2',rows[i]).attr('stroke',colors[i]).attr('stroke-width',2.2);
    text(1898.5, rows[i]+9, s, 25, {family:SANS, anchor:'start'});
  });
  text(1639, 48, titles[1], 37);
  text(1675, 576, 'Time(s)', 37);
  text(1138, 287.5, 'Rotation(rad)', 35, {bold:true, rotate:true});
  text(1673, 624, '(b)', 36);
})();

// ---------- Force panel helper ----------
function forcePanel(cfg){
  const x = d3.scaleLinear().domain(cfg.xDomain).range(cfg.xRange);
  const y = d3.scaleLinear().domain(cfg.yDomain).range(cfg.yRange);
  const clip = makeClip(cfg.xRange[0], cfg.yRange[1], cfg.xRange[1]-cfg.xRange[0], cfg.yRange[0]-cfg.yRange[1]);
  const g = svg.append('g').attr('clip-path', clip);
  const line = d3.line().x((d,i)=>x(i*forceDt)).y(d=>y(d));
  cfg.order.forEach(k=>{
    const s = cfg.series[k];
    const h = cfg.halo[k];
    if (h) {
      g.append('path').datum(s).attr('d', line).attr('fill','none').attr('stroke', colors[k])
        .attr('stroke-width', h[0]).attr('stroke-opacity', h[1]).attr('stroke-linejoin','round');
    }
    g.append('path').datum(s).attr('d', line).attr('fill','none').attr('stroke', colors[k])
      .attr('stroke-width', k < 3 ? cfg.comW : cfg.propW).attr('stroke-linejoin','round');
  });
  const ab = svg.append('g').attr('transform',`translate(0,${cfg.yRange[0]})`).call(d3.axisBottom(x).tickValues(forceTicksX).tickFormat(d3.format('d')).tickSize(-9).tickSizeOuter(0).tickPadding(17));
  styleAxis(ab, 2.4);
  const al = svg.append('g').attr('transform',`translate(${cfg.xRange[0]},0)`).call(d3.axisLeft(y).tickValues(forceTicksY).tickFormat((d,i)=>forceTickLabels[i]).tickSize(-9).tickSizeOuter(0).tickPadding(10));
  styleAxis(al, 1.5);
}

// ---------- Panel (c) ----------
forcePanel({xDomain:[0,32.8], xRange:[141.7,1016.5], yDomain:[-48.6,15.7], yRange:[1130,700],
  series:[leftComX,leftComY,leftComZ,leftPropX,leftPropY,leftPropZ], order:[0,1,2,3,4,5], comW:2.2, propW:1.3,
  halo:{1:[3.5,0.5],2:[3.5,0.5],3:[6,0.45],4:[5,0.4],5:[5,0.4]}});
text(558, 696, titles[2], 37);
text(559, 1213, 'Time(s)', 37);
text(73, 906, 'Force(N)', 35, {bold:true, rotate:true});
text(559, 1257, '(c)', 36);

// ---------- Panel (d) ----------
forcePanel({xDomain:[0,32.7], xRange:[1208.2,2098.3], yDomain:[-46.9,17.9], yRange:[1133.3,705.6],
  series:[rightComX,rightComY,rightComZ,rightPropX,rightPropY,rightPropZ], order:[3,4,5,0,1,2], comW:4.4, propW:1.2,
  halo:{2:[7,0.55],5:[2.5,0.5]}});
svg.append('rect').attr('x',1757).attr('y',712).attr('width',346).attr('height',215).attr('fill','#fff').attr('fill-opacity',0.72);
const dRows = [734.6,767,799.8,832,865,897];
forceLegend.forEach((s,i)=>{
  svg.append('line').attr('x1',1759).attr('x2',1794).attr('y1',dRows[i]).attr('y2',dRows[i]).attr('stroke',colors[i]).attr('stroke-width', i<3 ? 4.4 : 1.3);
  text(1797, dRows[i]+9, s, 25, {family:SANS, anchor:'start'});
});
text(1662, 690, titles[3], 37);
text(1675, 1214, 'Time(s)', 37);
text(1138, 935, 'Force(N)', 35, {bold:true, rotate:true});
text(1673, 1258, '(d)', 36);
</script>
</body></html>
